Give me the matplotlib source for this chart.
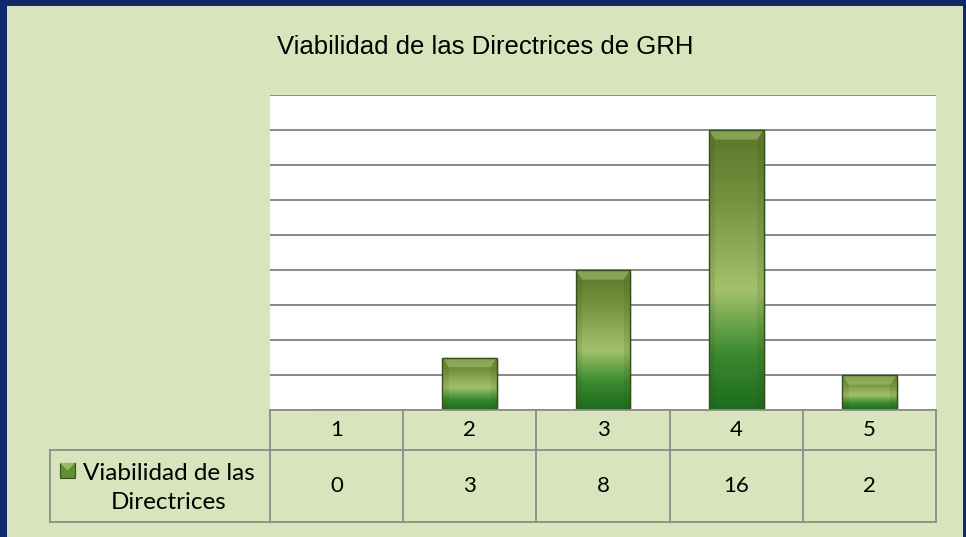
import numpy as np
import matplotlib
matplotlib.use("Agg")
import matplotlib.pyplot as plt
from matplotlib.patches import Rectangle, Polygon
from matplotlib.lines import Line2D
from matplotlib.colors import LinearSegmentedColormap

# data
categories = ['1', '2', '3', '4', '5']
values = [0, 3, 8, 16, 2]
series_name = 'Viabilidad de las\nDirectrices'
title = 'Viabilidad de las Directrices de GRH'

W, H = 966, 537


def px(x, y):
    # pixel position (from top-left) -> figure fraction
    return x / W, 1 - y / H


fig = plt.figure(figsize=(W / 100, H / 100), dpi=100)
fig.patch.set_facecolor('#0e2a6b')
# green panel inside the navy border
fig.add_artist(Rectangle((7 / W, 0), 956 / W, 531 / H, transform=fig.transFigure,
                         facecolor='#d8e4bc', edgecolor='none', zorder=0))

ax = fig.add_axes([270 / W, 1 - 410 / H, 666 / W, 315 / H])
ax.set_facecolor('white')
ax.set_yticks(np.arange(0, 19, 2))
ax.set_xticks([])
ax.tick_params(left=False, labelleft=False)
ax.grid(axis='y', color='#898989', linewidth=1.4)
ax.set_axisbelow(True)
for s in ax.spines.values():
    s.set_visible(False)

x = np.arange(len(categories))
bars = ax.bar(x, values, width=0.41, facecolor='none', edgecolor='#34501a',
              linewidth=1.0, zorder=3)

cmap = LinearSegmentedColormap.from_list(
    'bar', [(0.0, '#1d6b1c'), (0.2, '#3a8a30'), (0.43, '#a4c16c'),
            (0.75, '#76923f'), (1.0, '#5a772a')])
grad = np.linspace(0, 1, 256).reshape(-1, 1)
for b in bars:
    h = b.get_height()
    if h <= 0:
        continue
    x0, w = b.get_x(), b.get_width()
    # soft shadow
    ax.add_patch(Rectangle((x0 + 0.015, -0.15), w, h, facecolor='#000000',
                           alpha=0.10, edgecolor='none', zorder=2))
    im = ax.imshow(grad, extent=(x0, x0 + w, 0, h), origin='lower', cmap=cmap,
                   aspect='auto', zorder=2.5, interpolation='bicubic')
    im.set_clip_path(b)
    # top bevel
    dx = w * 0.12
    dy = 0.55
    ax.add_patch(Polygon([(x0, h), (x0 + w, h), (x0 + w - dx, h - dy), (x0 + dx, h - dy)],
                         closed=True, facecolor='#a9c476', alpha=0.55,
                         edgecolor='none', zorder=2.8))
    for xs in (x0, x0 + w - dx):
        ax.add_patch(Rectangle((xs, 0), dx, h - dy, facecolor='#2e4a12',
                               alpha=0.12, edgecolor='none', zorder=2.8))

ax.set_xlim(-0.5, len(categories) - 0.5)
ax.set_ylim(0, 18)

# title
fig.text(*px(485, 54), title, ha='center', va='baseline',
         fontsize=18.5, family='Liberation Sans', color='black')

# data table drawn below the axes
grid_col = '#8c8c8c'
col_edges = [270 + i * 133.2 for i in range(len(categories) + 1)]
y_top, y_mid, y_bot = 410, 450, 522
lab_left = 50


def line(x1, y1, x2, y2):
    fig.add_artist(Line2D([x1 / W, x2 / W], [1 - y1 / H, 1 - y2 / H],
                          transform=fig.transFigure, color=grid_col,
                          linewidth=1.3, zorder=4))


line(col_edges[0], y_top, col_edges[-1], y_top)
line(lab_left, y_mid, col_edges[-1], y_mid)
line(lab_left, y_bot, col_edges[-1], y_bot)
line(lab_left, y_mid, lab_left, y_bot)
for xe in col_edges:
    line(xe, y_top, xe, y_bot)

for i, (cat, v) in enumerate(zip(categories, values)):
    cx = (col_edges[i] + col_edges[i + 1]) / 2
    fig.text(*px(cx, (y_top + y_mid) / 2), cat, ha='center', va='center',
             fontsize=16, family='Lato')
    fig.text(*px(cx, (y_mid + y_bot) / 2), str(v), ha='center', va='center',
             fontsize=16, family='Lato')

fig.text(*px(169, (y_mid + y_bot) / 2 + 2), series_name, ha='center', va='center',
         multialignment='center', fontsize=17.5, family='Lato', linespacing=1.45)

# legend key in the row label
kx, ky, ks = 60, 463, 15
fig.add_artist(Rectangle(px(kx, ky + ks), ks / W, ks / H,
                         transform=fig.transFigure, facecolor='#5f8f35',
                         edgecolor='#34501a', linewidth=0.8, zorder=5))
fig.add_artist(Polygon([px(kx, ky), px(kx + ks, ky), px(kx + ks / 2, ky + ks / 2)],
                       transform=fig.transFigure, facecolor='#9bb866',
                       edgecolor='none', zorder=6))

fig.savefig('out.png', dpi=100, facecolor=fig.get_facecolor())
